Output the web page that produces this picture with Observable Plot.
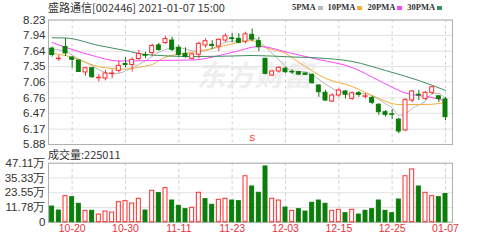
<!DOCTYPE html>
<html><head><meta charset="utf-8">
<script src="https://cdn.jsdelivr.net/npm/d3@7"></script>
<script src="https://cdn.jsdelivr.net/npm/@observablehq/plot@0.6"></script>
<style>
body{margin:0;background:#fff;}
#wrap{position:relative;width:502px;height:240px;overflow:hidden;font-family:"Liberation Sans",Arial,sans-serif;color:#333;}
.abs{position:absolute;white-space:nowrap;}
.sw{display:inline-block;width:5px;height:4px;margin:0 5px 1px 2px;vertical-align:middle;}
</style></head><body><div id="wrap"></div>
<script>
// ---- data ----
const dates = ["10-15","10-16","10-19","10-20","10-21","10-22","10-23","10-26","10-27","10-28","10-29","10-30",
"11-02","11-03","11-04","11-05","11-06","11-09","11-10","11-11","11-12","11-13","11-16","11-17","11-18","11-19","11-20",
"11-23","11-24","11-25","11-26","11-27","11-30","12-01","12-02","12-03","12-04","12-07","12-08","12-09","12-10","12-11",
"12-14","12-15","12-16","12-17","12-18","12-21","12-22","12-23","12-24","12-25","12-28","12-29","12-30","12-31",
"01-04","01-05","01-06","01-07"];
const openP  = [7.69,7.49,7.72,7.52,7.465,7.24,7.32,7.13,7.125,7.21,7.27,7.40,7.38,7.494,7.57,7.607,7.75,7.796,7.843,7.705,7.59,7.497,7.573,7.75,7.76,7.73,7.843,7.885,7.875,7.82,7.95,7.83,7.497,7.182,7.258,7.31,7.25,7.245,7.22,7.195,6.993,6.856,6.69,6.805,6.88,6.742,6.848,6.78,6.76,6.63,6.49,6.45,6.35,6.144,6.71,6.82,6.742,6.855,6.79,6.73];
const highP  = [7.72,7.56,7.88,7.54,7.47,7.34,7.33,7.20,7.28,7.29,7.45,7.52,7.516,7.66,7.62,7.777,7.79,7.92,7.905,7.75,7.705,7.60,7.81,7.875,7.84,7.875,7.97,7.97,7.97,8.00,8.06,7.90,7.51,7.28,7.35,7.34,7.29,7.26,7.23,7.21,7.01,6.90,6.836,6.93,6.90,6.87,6.88,6.836,6.79,6.65,6.52,6.54,6.375,6.742,6.90,6.90,6.88,6.98,6.80,6.77];
const lowP   = [7.53,7.45,7.54,7.32,7.24,7.17,7.13,7.06,7.08,7.12,7.23,7.33,7.25,7.465,7.50,7.54,7.64,7.77,7.635,7.53,7.51,7.48,7.497,7.70,7.67,7.635,7.81,7.80,7.78,7.78,7.82,7.635,7.195,7.16,7.23,7.22,7.20,7.18,7.19,7.02,6.77,6.69,6.67,6.77,6.74,6.71,6.77,6.74,6.63,6.43,6.395,6.35,6.08,6.125,6.67,6.71,6.71,6.82,6.67,6.33];
const closeP = [7.57,7.50,7.60,7.48,7.25,7.32,7.15,7.14,7.22,7.22,7.365,7.38,7.475,7.588,7.555,7.74,7.664,7.87,7.667,7.573,7.53,7.58,7.78,7.83,7.74,7.856,7.924,7.87,7.80,7.96,7.86,7.716,7.214,7.258,7.328,7.245,7.24,7.20,7.195,7.037,6.867,6.71,6.805,6.90,6.82,6.848,6.818,6.79,6.667,6.49,6.44,6.44,6.125,6.723,6.88,6.805,6.855,6.96,6.74,6.395];
const volume = [125000,93000,208000,200000,147000,91000,91000,61000,85000,77000,160000,168000,149000,187000,93000,251000,232000,272000,173000,131000,104000,115000,235000,184000,139000,179000,187000,173000,168000,367000,285000,235000,445000,187000,173000,117000,91000,104000,85000,155000,173000,147000,91000,99000,72000,99000,61000,91000,104000,173000,91000,72000,181000,367000,421000,285000,235000,208000,200000,225011];
const volDir = ["g","g","r","g","g","r","g","r","r","r","r","r","r","r","g","r","g","r","g","g","g","r","r","g","g","r","r","g","g","r","g","g","g","r","r","g","r","g","g","g","g","g","r","r","g","r","g","g","g","g","g","g","g","r","r","g","r","r","g","g"];

const ma5Idx = [0,2,4,6,7,9,10,12,14,16,18,19,21,22,24,26,28,30,31,32,33,34,35,36,38,39,41,43,45,47,48,50,51,52,53,54,56,57,58,59];
const ma5Val = [7.68,7.64,7.49,7.37,7.29,7.215,7.225,7.33,7.46,7.62,7.70,7.705,7.65,7.635,7.69,7.81,7.84,7.88,7.84,7.72,7.60,7.48,7.36,7.27,7.25,7.19,7.02,6.88,6.83,6.84,6.80,6.65,6.57,6.43,6.46,6.56,6.70,6.84,6.845,6.74];
const ma10Idx = [0,2,7,9,11,13,15,17,21,24,27,30,32,35,37,41,45,48,52,56,59];
const ma10Val = [7.60,7.56,7.35,7.315,7.305,7.34,7.39,7.53,7.62,7.69,7.78,7.84,7.71,7.60,7.43,7.13,6.975,6.805,6.635,6.635,6.67];
const ma20Idx = [0,6,10,15,21,27,31,36,40,45,49,53,57,59];
const ma20Val = [7.805,7.56,7.456,7.465,7.475,7.617,7.73,7.598,7.484,7.333,7.088,6.852,6.767,6.70];
const ma30Idx = [0,2,7,11,14,21,27,30,36,40,45,50,55,59];
const ma30Val = [7.894,7.89,7.749,7.654,7.579,7.541,7.55,7.56,7.532,7.513,7.447,7.277,7.088,6.90];

const priceTicks = [5.88,6.17,6.47,6.76,7.06,7.35,7.64,7.94,8.23];
const volTicks = [0,117800,235500,353300,471100];
const volTickLabels = ["0","11.78万","23.55万","35.33万","47.11万"];
const dateTicks = ["10-20","10-30","11-11","11-23","12-03","12-15","12-25","01-07"];
const signalDay = ["11-26"];
const maNames = ["5PMA","10PMA","20PMA","30PMA"];

// ---- styles ----
const RED = "#ff2a2a", GREEN = "#0a7d0a";
const maColors = ["#b8b8b8","#f6ad3a","#ff44ff","#3d8f5f"];
const FONT = "'Liberation Sans', Arial, sans-serif";

const candles = dates.map((d,i)=>({i, d, o:openP[i], h:highP[i], l:lowP[i], c:closeP[i], v:volume[i], vr: volDir[i]==="r"}));
const tickIdx = dateTicks.map(d=>dates.indexOf(d));
const xDomain = [-0.55, 60.05];
const mk = (I,V)=>I.map((i,k)=>({i, v:V[k]}));
const maSeries = [mk(ma5Idx,ma5Val),mk(ma10Idx,ma10Val),mk(ma20Idx,ma20Val),mk(ma30Idx,ma30Val)];

const wrap = document.getElementById("wrap");

const price = Plot.plot({
  width: 502, height: 150,
  marginLeft: 48, marginRight: 50, marginTop: 19.5, marginBottom: 6,
  x: {type:"linear", domain: xDomain, axis: null},
  y: {domain:[5.88, 8.23], axis: null},
  color: {type:"identity"},
  style: {fontFamily: FONT, background:"transparent", overflow:"visible"},
  marks: [
    Plot.text(["东方财富"], {frameAnchor:"middle", dx: 4, dy: -6, fontSize: 29, fontWeight:"bold", fontStyle:"italic", fill:"#efefef", fontFamily:"'Noto Sans CJK SC', sans-serif"}),
    Plot.ruleY(priceTicks, {stroke:"#e2e2e2"}),
    Plot.ruleX(tickIdx, {stroke:"#cfcfcf", strokeDasharray:"3,3"}),
    Plot.frame({stroke:"#b0b0b0"}),
    Plot.text(priceTicks, {y: d=>d, text: d=>d.toFixed(2), frameAnchor:"left", dx:-3, textAnchor:"end", fontSize: 11.5, fill:"#333"}),
    ...maSeries.map((s,k)=>Plot.line(s, {x:"i", y:"v", stroke: maColors[k], strokeWidth:1, curve:"monotone-x"})),
    Plot.ruleX(candles, {x:"i", y1:"l", y2:"h", stroke: d=> d.c>=d.o ? RED : GREEN, strokeWidth:1}),
    Plot.rect(candles, {x1: d=>d.i-0.5, x2: d=>d.i+0.5, insetLeft:1.35, insetRight:1.35, y1:"o", y2:"c",
      fill: d=> d.c>=d.o ? "#fff" : GREEN, stroke: d=> d.c>=d.o ? RED : GREEN, strokeWidth:1}),
    Plot.text(signalDay, {x: d=>dates.indexOf(d), text: ()=>"S", frameAnchor:"bottom", dy:-4, fill:RED, fontSize:9})
  ]
});
price.style.position="absolute"; price.style.left="0px"; price.style.top="0px";
wrap.appendChild(price);

const vol = Plot.plot({
  width: 502, height: 90,
  marginLeft: 48, marginRight: 50, marginTop: 12.7, marginBottom: 18.3,
  x: {type:"linear", domain: xDomain, axis: null},
  y: {domain:[0, 471100], axis: null},
  color: {type:"identity"},
  style: {fontFamily: FONT, background:"transparent", overflow:"visible"},
  marks: [
    Plot.ruleY(volTicks, {stroke:"#e2e2e2"}),
    Plot.ruleX(tickIdx, {stroke:"#cfcfcf", strokeDasharray:"3,3"}),
    Plot.frame({stroke:"#b0b0b0"}),
    Plot.text(volTicks, {y: d=>d, text: (d,k)=>volTickLabels[k], frameAnchor:"left", dx:-3, textAnchor:"end", fontSize: 11.5, fill:"#333"}),
    Plot.text(dateTicks, {x: d=>dates.indexOf(d), text: d=>d, frameAnchor:"bottom", dy: 9.5, fill:"#e8333a", fontSize: 10.5}),
    Plot.rect(candles, {x1: d=>d.i-0.5, x2: d=>d.i+0.5, insetLeft:1.35, insetRight:1.35, y1: 0, y2:"v",
      fill: d=> d.vr ? "#fff" : GREEN, stroke: d=> d.vr ? RED : GREEN, strokeWidth:1})
  ]
});
vol.style.position="absolute"; vol.style.left="0px"; vol.style.top="150px";
wrap.appendChild(vol);

// title / legend / volume caption
const title = document.createElement("div");
title.className="abs";
title.style.cssText="left:48px;top:0px;line-height:15px;font-size:11px;font-family:'Noto Sans CJK SC','Liberation Sans',sans-serif;color:#333;";
title.textContent="盛路通信[002446] 2021-01-07 15:00";
wrap.appendChild(title);

const leg = document.createElement("div");
leg.className="abs";
leg.style.cssText="left:292px;top:1px;line-height:13px;font-size:8.5px;font-family:'Liberation Serif',serif;font-weight:bold;color:#333;";
leg.innerHTML = maNames.map((n,k)=>`${n}<span class="sw" style="background:${maColors[k]}"></span>`).join("");
wrap.appendChild(leg);

const vcap = document.createElement("div");
vcap.className="abs";
vcap.style.cssText="left:48px;top:147px;line-height:14px;font-size:11px;font-family:'Noto Sans CJK SC','Liberation Sans',sans-serif;color:#333;";
vcap.textContent="成交量:" + volume[volume.length-1];
wrap.appendChild(vcap);
</script></body></html>
